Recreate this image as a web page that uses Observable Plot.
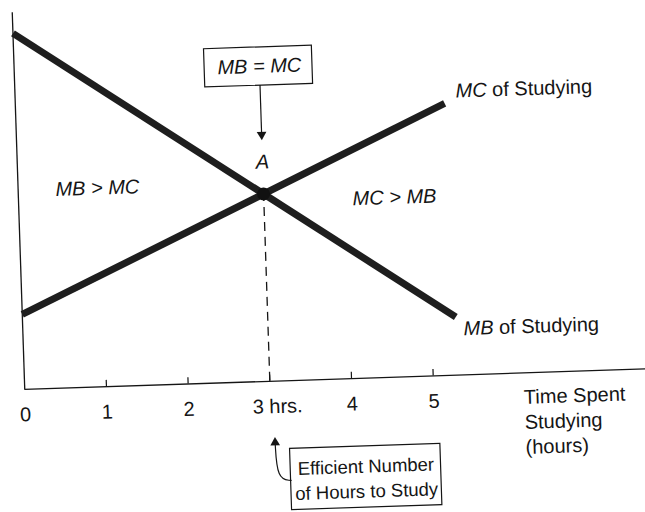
<!DOCTYPE html>
<html><head><meta charset="utf-8">
<script src="https://cdn.jsdelivr.net/npm/d3@7"></script>
<script src="https://cdn.jsdelivr.net/npm/@observablehq/plot@0.6"></script>
<style>
html,body{margin:0;padding:0;background:#fff;overflow:hidden;}
#chart{width:645px;height:512px;}
#chart svg{display:block;transform:rotate(-1.9deg);transform-origin:322.5px 256px;}
</style></head><body><div id="chart"></div>
<script>
// Marginal benefit (MB) and marginal cost (MC) of studying, by hours
const mbHours = [0, 5.3];
const mbValues = [9.5, 1.55];
const mcHours = [0, 5.25];
const mcValues = [2.0, 7.25];
const tickHours = [0, 1, 2, 3, 4, 5];
const tickLabels = ["0", "1", "2", "3 hrs.", "4", "5"];
const efficientHours = 3;
const efficientValue = 5.0;

const mbRows = mbHours.map((h, i) => ({h, v: mbValues[i]}));
const mcRows = mcHours.map((h, i) => ({h, v: mcValues[i]}));
const tickRows = tickHours.map((h, i) => ({h, label: tickLabels[i]}));

const font = "'Liberation Sans', Arial, Helvetica, sans-serif";
const ink = "#151515";
const one = [0];

const chart = Plot.plot({
  width: 645, height: 512,
  marginLeft: 20, marginRight: 12, marginTop: 4, marginBottom: 133,
  x: {domain: [0, 7.5], axis: null},
  y: {domain: [0, 10], axis: null},
  style: {fontFamily: font, fontSize: "20px", background: "white", color: ink, overflow: "visible"},
  marks: [
    // axes
    Plot.ruleX(one, {x: 0, y1: 0, y2: 10.05, stroke: ink, strokeWidth: 1.3}),
    Plot.ruleY(one, {y: 0, x1: 0, x2: 7.62, stroke: ink, strokeWidth: 1.3}),
    Plot.ruleX(tickHours.slice(1), {y1: 0, y2: 0.17, stroke: ink, strokeWidth: 1.2}),
    Plot.text(tickRows, {filter: d => d.h !== efficientHours, x: "h", y: -0.68, text: "label", fill: ink}),
    Plot.text(tickRows, {filter: d => d.h === efficientHours, x: "h", y: -0.68, text: "label", dx: 7, fill: ink}),
    Plot.text(one, {x: 6.1, y: -1.28, text: () => "Time Spent\nStudying\n(hours)", textAnchor: "start", lineAnchor: "middle", lineHeight: 1.25, fill: ink}),
    // efficient point guide
    Plot.ruleX([efficientHours], {y1: 0, y2: efficientValue, stroke: ink, strokeWidth: 1.3, strokeDasharray: "9,6"}),
    // curves
    Plot.line(mbRows, {x: "h", y: "v", stroke: "#1e1e1e", strokeWidth: 7, strokeLinecap: "butt"}),
    Plot.line(mcRows, {x: "h", y: "v", stroke: "#1e1e1e", strokeWidth: 7, strokeLinecap: "butt"}),
    Plot.dot([{h: efficientHours, v: efficientValue}], {x: "h", y: "v", r: 6.5, fill: "#111", stroke: "none"}),
    // curve labels
    Plot.text(one, {x: 5.39, y: 7.57, text: () => "MC", textAnchor: "start", fontStyle: "italic", fill: ink}),
    Plot.text(one, {x: 5.39, y: 7.57, text: () => "of Studying", textAnchor: "start", dx: 36.5, fill: ink}),
    Plot.text(one, {x: 5.39, y: 1.23, text: () => "MB", textAnchor: "start", fontStyle: "italic", fill: ink}),
    Plot.text(one, {x: 5.39, y: 1.23, text: () => "of Studying", textAnchor: "start", dx: 35.5, fill: ink}),
    // region labels
    Plot.text(one, {x: 0.97, y: 5.30, text: () => "MB > MC", fontStyle: "italic", fill: ink}),
    Plot.text(one, {x: 4.60, y: 4.79, text: () => "MC > MB", fontStyle: "italic", fill: ink}),
    // MB = MC callout
    Plot.rect(one, {x1: 2.33, x2: 3.65, y1: 7.89, y2: 8.91, fill: "white", stroke: ink, strokeWidth: 1.2}),
    Plot.text(one, {x: efficientHours, y: 8.4, text: () => "MB = MC", fontStyle: "italic", fill: ink}),
    Plot.ruleX([efficientHours], {y1: 7.89, y2: 6.6, stroke: ink, strokeWidth: 1.2}),
    Plot.dot([efficientHours], {x: d => d, y: 6.43, symbol: "triangle", rotate: 180, r: 3.6, dy: -5.6, fill: ink, stroke: "none"}),
    Plot.text(one, {x: efficientHours, y: 5.85, text: () => "A", fontStyle: "italic", fill: ink}),
    // Efficient number callout
    Plot.rect(one, {x1: 3.22, x2: 5.06, y1: -1.82, y2: -3.45, fill: "white", stroke: ink, strokeWidth: 1.2}),
    Plot.text(one, {x: 4.14, y: -2.64, text: () => "Efficient Number\nof Hours to Study", fontSize: 18.5, lineAnchor: "middle", lineHeight: 1.35, fill: ink}),
    Plot.line([{h: 3.22, v: -2.66}, {h: 3.05, v: -2.62}, {h: 3.04, v: -1.62}], {x: "h", y: "v", curve: "basis", stroke: ink, strokeWidth: 1.2}),
    Plot.dot([efficientHours], {x: 3.04, y: -1.49, symbol: "triangle", r: 3.6, dy: 5.6, fill: ink, stroke: "none"})
  ]
});
document.getElementById("chart").appendChild(chart);
</script>
</body></html>
